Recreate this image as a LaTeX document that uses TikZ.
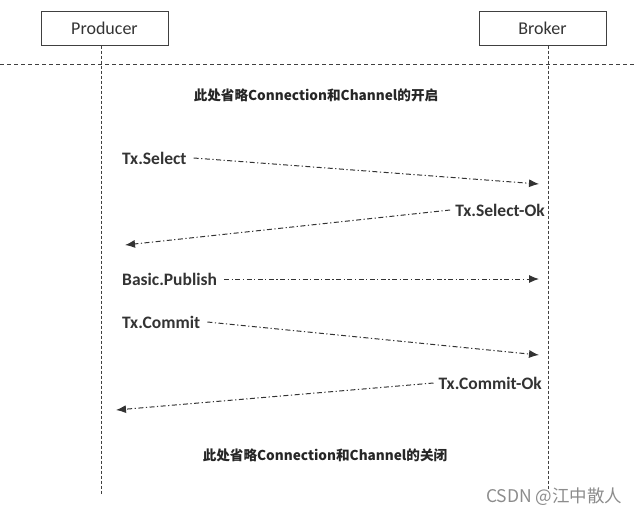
\documentclass[tikz,border=0pt]{standalone}
\usepackage{fontspec}
\setmainfont{Carlito}
\newfontfamily\cjk{Noto Sans CJK SC}
\usetikzlibrary{arrows.meta}

\begin{document}
\begin{tikzpicture}[x=1pt,y=-1pt,>={Latex[length=10pt,width=8pt]},
  actor/.style={draw=black!75,line width=1pt,minimum width=127pt,minimum height=34pt,font=\fontsize{18}{20}\selectfont,text=black!80},
  life/.style={draw=black!75,line width=1pt,dash pattern=on 3pt off 2pt},
  msg/.style={draw=black!80,line width=1pt,dash pattern=on 5pt off 2.5pt on 1.2pt off 2.5pt,->},
  lbl/.style={font=\fontsize{17.5}{20}\bfseries\selectfont,text=black!80,inner sep=1pt},
  note/.style={font=\cjk\fontsize{13.6}{16}\bfseries\selectfont,text=black!85}]

\useasboundingbox (0,0) rectangle (639,517);

\node[actor] (prod) at (104.5,28) {Producer};
\node[actor] (brok) at (542.5,28) {Broker};

% 生命线
\coordinate (prodEnd) at (101,495);
\coordinate (brokEnd) at (548,490);
\draw[life] (prod.south -| prodEnd) -- (prodEnd);
\draw[life] (brok.south -| brokEnd) -- (brokEnd);

% 分隔线
\coordinate (sepL) at (0,64);
\coordinate (sepR) at (636,64);
\draw[draw=black!75,line width=1pt,dash pattern=on 4pt off 3pt] (sepL) -- (sepR);

\node[note] (open) at (316,95) {此处省略Connection和Channel的开启};

% Tx.Select
\node[lbl,anchor=west] (sel) at (121,158) {Tx.Select};
\coordinate (selEnd) at (539,184);
\draw[msg] ([xshift=6pt]sel.east) -- (selEnd);

% Tx.Select-Ok
\node[lbl,anchor=east] (selok) at (546,210) {Tx.Select-Ok};
\coordinate (selokEnd) at (125,245);
\draw[msg] ([xshift=-4pt]selok.west) -- (selokEnd);

% Basic.Publish
\node[lbl,anchor=west] (pub) at (121,279) {Basic.Publish};
\coordinate (pubEnd) at (539,279);
\draw[msg] ([xshift=6pt]pub.east) -- (pubEnd);

% Tx.Commit
\node[lbl,anchor=west] (com) at (121,322) {Tx.Commit};
\coordinate (comEnd) at (539,355);
\draw[msg] ([xshift=6pt]com.east) -- (comEnd);

% Tx.Commit-Ok
\node[lbl,anchor=east] (comok) at (543,383) {Tx.Commit-Ok};
\coordinate (comokEnd) at (116,410);
\draw[msg] ([xshift=-4pt]comok.west) -- (comokEnd);

\node[note] (close) at (325,455) {此处省略Connection和Channel的关闭};

\node[font=\cjk\fontsize{17.5}{20}\selectfont,text=black!45,anchor=east] (mark) at (626,497) {CSDN @江中散人};

\end{tikzpicture}
\end{document}
